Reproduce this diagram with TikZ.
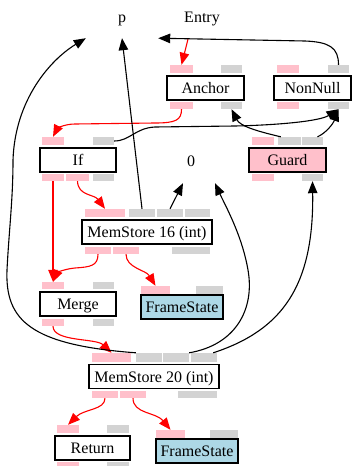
\documentclass[tikz,border=0pt]{standalone}
\usepackage{fontspec}
\setmainfont{Liberation Serif}
\usetikzlibrary{arrows.meta,calc}
\definecolor{portpink}{HTML}{FFC0CB}
\definecolor{portgray}{HTML}{D3D3D3}
\definecolor{fsblue}{HTML}{ADD8E6}
\definecolor{guardpink}{HTML}{FFC0CB}
\newcommand\prt[6]{\node[#1,minimum width={#5-#3},minimum height={#6-#4}] (#2) at ({(#3+#5)/2},{(#4+#6)/2}) {};}
\begin{document}
\begin{tikzpicture}[x=1pt,y=-1pt,
  box/.style={draw=black, line width=1.2pt, fill=white, inner sep=0pt,
    minimum height=24, text height=11, text depth=0,
    font=\fontsize{16}{19}\selectfont},
  lbl/.style={inner sep=0pt, text height=11, text depth=0,
    font=\fontsize{16}{19}\selectfont},
  pp/.style={fill=portpink, inner sep=0pt, draw=none},
  pg/.style={fill=portgray, inner sep=0pt, draw=none},
  edge/.style={line width=1.1pt, -{Triangle[length=12pt,width=9.5pt]}},
  redge/.style={edge, red},
]
\useasboundingbox (0,0) rectangle (352,466);

% labels
\node[lbl, minimum width=72, minimum height=43] (p) at (122,16.5) {p};
\node[lbl, minimum height=45] (entry) at (202,16.5) {Entry};
\node[lbl, minimum width=64, minimum height=45] (zero) at (191,160.5) {0};

% boxes
\node[box, minimum width=77] (anchor) at (205.5,88) {Anchor};
\node[box, minimum width=77] (nonnull) at (312.5,88) {NonNull};
\node[box, minimum width=76] (if) at (78,160) {If};
\node[box, minimum width=77, fill=guardpink] (guard) at (287.5,160) {Guard};
\node[box, minimum width=130] (ms16) at (147,232) {MemStore 16 (int)};
\node[box, minimum width=76] (merge) at (78,304) {Merge};
\node[box, minimum width=82, fill=fsblue] (fs1) at (182,307) {FrameState};
\node[box, minimum width=130] (ms20) at (154,376.5) {MemStore 20 (int)};
\node[box, minimum width=75] (ret) at (92.5,448) {Return};
\node[box, minimum width=82, fill=fsblue] (fs2) at (197,451) {FrameState};

% ports
\prt{pp}{aT1}{170}{65}{193}{73}
\prt{pg}{aT2}{221}{65}{242}{73}
\prt{pp}{aB1}{170}{102}{193}{109}
\prt{pg}{aB2}{221}{102}{242}{109}
\prt{pp}{nT1}{277}{65}{299}{73}
\prt{pg}{nT2}{328}{65}{349}{73}
\prt{pp}{nB1}{277}{102}{299}{109}
\prt{pg}{nB2}{328}{102}{349}{109}
\prt{pp}{iT1}{42}{137}{64}{145}
\prt{pg}{iT2}{93}{137}{114}{145}
\prt{pp}{iB1}{42}{174}{64}{181}
\prt{pp}{iB2}{66}{174}{89}{181}
\prt{pg}{iB3}{93}{174}{114}{181}
\prt{pp}{gT1}{252}{137}{274}{145}
\prt{pg}{gT2}{278}{137}{301}{145}
\prt{pg}{gT3}{302}{137}{323}{145}
\prt{pp}{gB1}{252}{174}{274}{181}
\prt{pg}{gB2}{302}{174}{323}{181}
\prt{pp}{mT1}{85}{209}{125}{217}
\prt{pg}{mT2}{129}{209}{155}{217}
\prt{pg}{mT3}{157}{209}{183}{217}
\prt{pg}{mT4}{185}{209}{210}{217}
\prt{pp}{mB1}{85}{247}{111}{254}
\prt{pp}{mB2}{113}{247}{139}{254}
\prt{pg}{mB3}{172}{247}{210}{254}
\prt{pp}{eT1}{42}{282}{64}{289}
\prt{pg}{eT2}{93}{282}{114}{289}
\prt{pp}{eB1}{42}{319}{64}{326}
\prt{pg}{eB2}{93}{319}{114}{326}
\prt{pp}{fT1}{141}{286}{170}{294}
\prt{pg}{fT2}{196}{286}{223}{294}
\prt{pp}{sT1}{92}{353}{131}{362}
\prt{pg}{sT2}{136}{353}{162}{362}
\prt{pg}{sT3}{163}{353}{189}{362}
\prt{pg}{sT4}{191}{353}{217}{362}
\prt{pp}{sB1}{92}{391}{118}{398}
\prt{pp}{sB2}{120}{391}{146}{398}
\prt{pg}{sB3}{178}{391}{217}{398}
\prt{pp}{rT1}{57}{425}{79}{433}
\prt{pg}{rT2}{107}{425}{129}{433}
\prt{pp}{rB1}{57}{462}{79}{470}
\prt{pg}{rB2}{107}{462}{129}{470}
\prt{pp}{tT1}{156}{430}{185}{438}
\prt{pg}{tT2}{210}{430}{238}{438}

% red (control) edges
\draw[redge] ($(entry.south)+(-14,0)$) -- (aT1.north);
\draw[redge] (aB1.south) .. controls (181.5,120) and (176,123) .. (155,123)
  -- (75,124) .. controls (64,124) and (57,129) .. (iT1.north);
\draw[redge] (iB1.south) -- (eT1.north);
\draw[redge] (iB2.south) .. controls (78,196) and (94,194) .. (mT1.north);
\draw[redge] (mB1.south) .. controls (98,266) and (90,267) .. (75,268)
  .. controls (64,269) and (57,273) .. (eT1.north);
\draw[redge] (mB2.south) .. controls (126,268) and (146,270) .. (fT1.north);
\draw[redge] (eB1.south) .. controls (53,342) and (96,338) .. (sT1.north);
\draw[redge] (sB1.south) .. controls (105,410) and (84,409) .. (rT1.north);
\draw[redge] (sB2.south) .. controls (133,414) and (156,412) .. (tT1.north);

% black (data) edges
\draw[edge] (nT2.north) .. controls (338.5,48) and (330,42) .. (305,41) -- (p.south east);
\draw[edge] (iT2.east) .. controls (130,141) and (135,128) .. (155,127)
  -- (235,126) .. controls (280,125) and (320,121) .. (nB2.south);
\draw[edge] ($(gT2.north west)+(3,0)$) .. controls (256,131) and (240,126) .. (aB2.south);
\draw[edge] ($(gT3.north)+(5,0)$) .. controls (326,133) and (333,124) .. (nB2.south);
\draw[edge] (mT2.north) -- (p.south);
\draw[edge] (mT3.north) -- ($(zero.south)+(-8,0)$);
\draw[edge] (sT2.north west) .. controls (30,345) and (5,320) .. (7,270)
  .. controls (9,230) and (13,200) .. (13,160)
  .. controls (15,100) and (50,60) .. (p.south west);
\draw[edge] (sT3.north east) .. controls (235,345) and (255,310) .. (248,270)
  .. controls (242,235) and (225,205) .. ($(zero.south)+(24,0)$);
\draw[edge] ($(sT4.north east)+(-4,0)$) .. controls (283,330) and (314,285) .. (gB2.south);
\end{tikzpicture}
\end{document}
